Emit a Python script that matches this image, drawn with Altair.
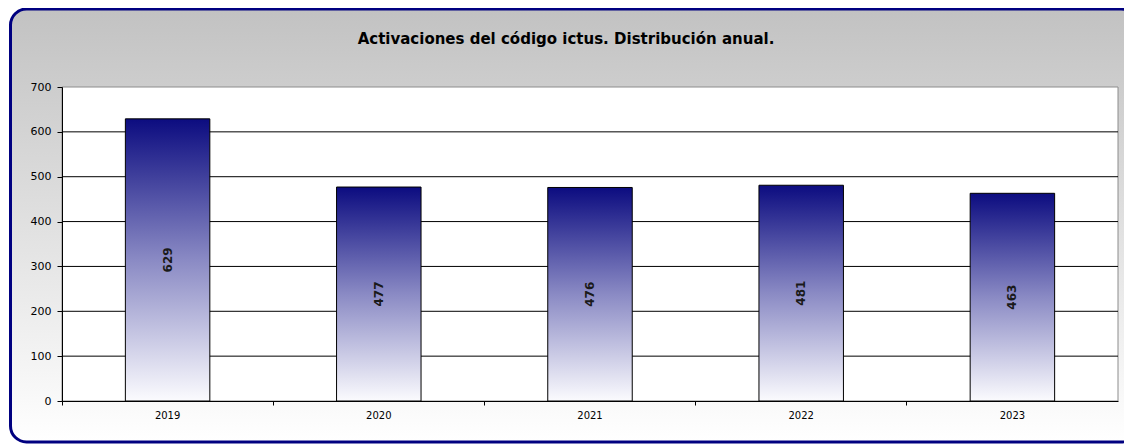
import altair as alt
import pandas as pd

years = ["2019", "2020", "2021", "2022", "2023"]
values = [629, 477, 476, 481, 463]
grid_values = [100, 200, 300, 400, 500, 600]
y_ticks = [0, 100, 200, 300, 400, 500, 600, 700]
title_text = "Activaciones del código ictus. Distribución anual."

W, H = 1056, 314

df = pd.DataFrame({"year": years, "value": values})
grid_df = pd.DataFrame({"g": grid_values})
one = pd.DataFrame({"k": [0]})

xscale = alt.Scale(domain=years, paddingInner=0, paddingOuter=0)
yscale = alt.Scale(domain=[0, 700], nice=False)

FONT = "DejaVu Sans"

frame_fill = alt.Gradient(
    gradient="linear", x1=0, y1=0, x2=0, y2=1,
    stops=[alt.GradientStop(offset=0, color="#c2c2c2"),
           alt.GradientStop(offset=1, color="#ffffff")],
)
bar_fill = alt.Gradient(
    gradient="linear", x1=0, y1=0, x2=0, y2=1,
    stops=[alt.GradientStop(offset=0, color="#0c0c80"),
           alt.GradientStop(offset=0.5, color="#8a8ac4"),
           alt.GradientStop(offset=1, color="#fbfbfe")],
)

frame = alt.Chart(one).mark_rect(
    cornerRadius=16, stroke="#000080", strokeWidth=3, fill=frame_fill
).encode(
    x=alt.value(-51.5), x2=alt.value(1075), y=alt.value(-78), y2=alt.value(355)
)

plotbg = alt.Chart(one).mark_rect(
    fill="white", stroke="#8c8c8c", strokeWidth=1
).encode(
    x=alt.value(0), x2=alt.value(W), y=alt.value(0), y2=alt.value(H)
)

title = alt.Chart(one).mark_text(
    font=FONT, fontSize=15, fontWeight="bold", color="black",
    align="center", baseline="middle",
).encode(
    x=alt.value(W / 2 - 24), y=alt.value(-48), text=alt.value(title_text)
)

grid = alt.Chart(grid_df).mark_rule(color="black", strokeWidth=1).encode(
    y=alt.Y("g:Q", scale=yscale, title=None)
)

xaxis = alt.Axis(
    bandPosition=0, labelAngle=0, domainColor="black",
    tickColor="black", tickSize=4, labelFont=FONT, labelFontSize=10,
    labelColor="black", labelPadding=5, grid=False, zindex=1, title=None,
)
yaxis = alt.Axis(
    values=y_ticks, domainColor="black", tickColor="black", tickSize=5,
    labelFont=FONT, labelFontSize=11, labelColor="black", labelPadding=6,
    grid=False, zindex=1, title=None,
)

bars = alt.Chart(df).mark_bar(
    width=alt.RelativeBandSize(0.4), stroke="black", strokeWidth=1, fill=bar_fill
).encode(
    x=alt.X("year:N", scale=xscale, sort=years, axis=xaxis),
    y=alt.Y("value:Q", scale=yscale, axis=yaxis),
)

labels = alt.Chart(df).transform_calculate(half="datum.value / 2").mark_text(
    angle=270, font=FONT, fontSize=12, fontWeight="bold", color="#1a1a1a",
    align="center", baseline="middle",
).encode(
    x=alt.X("year:N", scale=xscale, sort=years),
    y=alt.Y("half:Q", scale=yscale),
    text="value:Q",
)

chart = alt.layer(frame, plotbg, grid, bars, labels, title).properties(
    width=W, height=H,
    padding={"left": 54, "top": 79, "right": 6, "bottom": 44},
    autosize="none",
).configure_view(stroke=None).configure(background="white")

chart.save("out.html", embed_options={"renderer": "svg", "actions": False})
